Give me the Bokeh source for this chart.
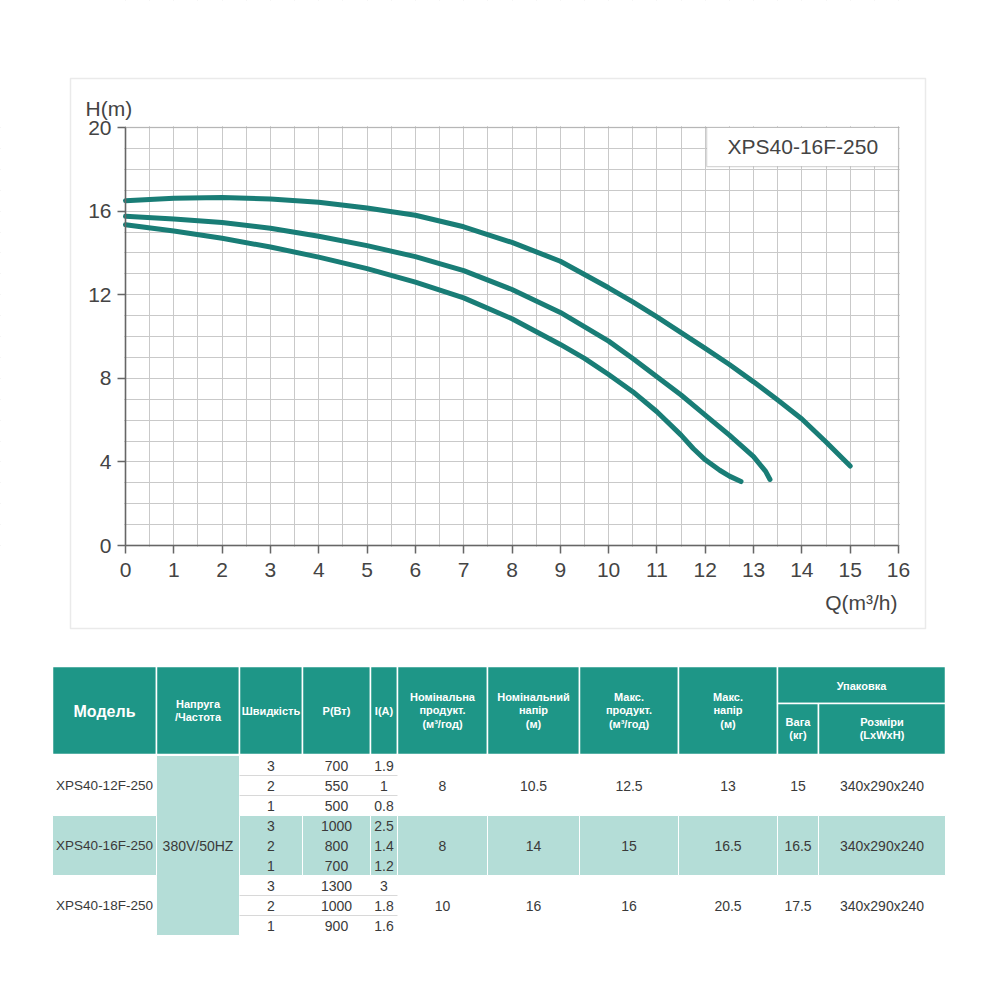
from bokeh.plotting import figure
from bokeh.layouts import column
from bokeh.models import Range1d, SingleIntervalTicker, FixedTicker, Label, BoxAnnotation
from bokeh.embed import file_html
from bokeh.resources import INLINE
from bokeh.core.properties import value

# ---------------- chart data ----------------
q_speed3 = [0, 1, 2, 3, 4, 5, 6, 7, 8, 9, 10, 10.5, 11, 11.5, 12, 12.5, 13, 13.5, 14, 14.5, 15]
h_speed3 = [16.5, 16.62, 16.65, 16.58, 16.42, 16.15, 15.8, 15.25, 14.5, 13.6, 12.33, 11.66, 10.94,
            10.19, 9.43, 8.66, 7.83, 6.96, 6.05, 4.95, 3.8]
q_speed2 = [0, 1, 2, 3, 4, 5, 6, 7, 8, 9, 10, 10.5, 11, 11.5, 12, 12.5, 13, 13.25, 13.34]
h_speed2 = [15.75, 15.62, 15.45, 15.18, 14.8, 14.35, 13.82, 13.15, 12.25, 11.15, 9.78, 8.95, 8.07,
            7.2, 6.24, 5.28, 4.25, 3.55, 3.16]
q_speed1 = [0, 1, 2, 3, 4, 5, 6, 7, 8, 9, 9.5, 10, 10.5, 11, 11.5, 11.75, 12, 12.3, 12.5, 12.74]
h_speed1 = [15.35, 15.05, 14.7, 14.28, 13.8, 13.25, 12.6, 11.85, 10.85, 9.62, 8.95, 8.18, 7.36,
            6.4, 5.28, 4.64, 4.1, 3.6, 3.32, 3.06]
x_ticks = list(range(0, 17))
y_ticks = [0, 4, 8, 12, 16, 20]
model_name = "XPS40-16F-250"
y_title = "H(m)"
x_title = "Q(m³/h)"

# ---------------- table data ----------------
headers = ["Модель", "Напруга\n/Частота", "Швидкість", "P(Вт)", "I(A)",
           "Номінальна\nпродукт.\n(м³/год)", "Номінальний\nнапір\n(м)",
           "Макс.\nпродукт.\n(м³/год)", "Макс.\nнапір\n(м)"]
pack_header = "Упаковка"
pack_sub = ["Вага\n(кг)", "Розміри\n(LxWxH)"]
models = ["XPS40-12F-250", "XPS40-16F-250", "XPS40-18F-250"]
voltage = "380V/50HZ"
speeds = [["3", "2", "1"], ["3", "2", "1"], ["3", "2", "1"]]
power_w = [["700", "550", "500"], ["1000", "800", "700"], ["1300", "1000", "900"]]
current_a = [["1.9", "1", "0.8"], ["2.5", "1.4", "1.2"], ["3", "1.8", "1.6"]]
nominal_flow = ["8", "8", "10"]
nominal_head = ["10.5", "14", "16"]
max_flow = ["12.5", "15", "16"]
max_head = ["13", "16.5", "20.5"]
weight = ["15", "16.5", "17.5"]
dims = ["340x290x240", "340x290x240", "340x290x240"]

# ---------------- styles / layout ----------------
CURVE = "#197d76"
HEAD = "#1e9687"
BAND = "#b4ddd7"
FONT = "Liberation Sans"
TXT = "#444444"

# chart geometry (page pixels): plot area 125..898 x 127..545, figure 1000 x 650
X0_PX, X16_PX, Y0_PX, Y20_PX, CH_H = 125, 898, 545, 127, 650
ux = (X16_PX - X0_PX) / 16.0
uy = (Y0_PX - Y20_PX) / 20.0
xr = Range1d(-X0_PX / ux, (1000 - X0_PX) / ux)
yr = Range1d(-(CH_H - Y0_PX) / uy, Y0_PX / uy)

p = figure(width=1000, height=CH_H, x_range=xr, y_range=yr, title=None,
           output_backend="svg", toolbar_location=None, min_border=0)
p.background_fill_color = "white"
p.border_fill_color = "white"
p.outline_line_color = None

p.xgrid.ticker = SingleIntervalTicker(interval=0.5)
p.ygrid.ticker = SingleIntervalTicker(interval=1)
p.xgrid.bounds = (0, 16)
p.ygrid.bounds = (0, 20)
p.grid.grid_line_color = "#c9c9c9"
p.grid.grid_line_width = 1

# white covers outside the plotting area (hide grid outside)
ex, ey = 1.2 / ux, 1.2 / uy
covers = [(xr.start, -ex, yr.start, yr.end), (16 + ex, xr.end, yr.start, yr.end),
          (xr.start, xr.end, yr.start, -ey), (xr.start, xr.end, 20 + ey, yr.end)]
for l, r, b, tp in covers:
    p.add_layout(BoxAnnotation(left=l, right=r, bottom=b, top=tp, fill_color="white",
                               fill_alpha=1, line_color=None, level="underlay"))
# plot box (top/right edges) and outer frame
p.add_layout(BoxAnnotation(left=0, right=16, bottom=0, top=20, fill_alpha=0,
                           line_color="#8c8c8c", line_width=1.5, level="underlay"))
p.add_layout(BoxAnnotation(left=(70 - X0_PX) / ux, right=(925 - X0_PX) / ux,
                           top=(Y0_PX - 78) / uy, bottom=(Y0_PX - 628) / uy, fill_alpha=0,
                           line_color="#b8b8b8", line_width=1.5, level="underlay"))

p.xaxis.ticker = FixedTicker(ticks=x_ticks)
p.yaxis.ticker = FixedTicker(ticks=y_ticks)
p.xaxis.fixed_location = 0
p.yaxis.fixed_location = 0
p.xaxis.bounds = (0, 16)
p.yaxis.bounds = (0, 20)
for ax in (p.xaxis, p.yaxis):
    ax.axis_line_color = "#666666"
    ax.axis_line_width = 1.5
    ax.major_tick_line_color = "#666666"
    ax.major_tick_line_width = 1.5
    ax.major_tick_out = 8
    ax.major_tick_in = 0
    ax.minor_tick_line_color = None
    ax.major_label_text_font = FONT
    ax.major_label_text_font_size = "21px"
    ax.major_label_text_color = TXT
p.yaxis.major_label_standoff = 6
p.xaxis.major_label_standoff = 9

for q, h in ((q_speed3, h_speed3), (q_speed2, h_speed2), (q_speed1, h_speed1)):
    p.line(q, h, line_color=CURVE, line_width=5, line_cap="round", line_join="round")

# model box
p.add_layout(BoxAnnotation(left=12.03, right=16, top=20, bottom=18.13,
                           fill_color="white", fill_alpha=1, line_color="#777777", line_width=1.2))
p.add_layout(Label(x=14.02, y=19.07, text=model_name, text_align="center", text_baseline="middle",
                   text_font=FONT, text_font_size="21px", text_color=TXT))
p.add_layout(Label(x=(85 - X0_PX) / ux, y=(Y0_PX - 108) / uy, text=y_title, text_align="left",
                   text_baseline="middle", text_font=FONT, text_font_size="21px", text_color=TXT))
p.add_layout(Label(x=(897 - X0_PX) / ux, y=(Y0_PX - 602) / uy, text=x_title, text_align="right",
                   text_baseline="middle", text_font=FONT, text_font_size="21px", text_color=TXT))

# ---------------- table ----------------
t = figure(width=1000, height=1000 - CH_H, x_range=Range1d(0, 1000), y_range=Range1d(1000, CH_H),
           title=None, output_backend="svg", toolbar_location=None, min_border=0,
           x_axis_type=None, y_axis_type=None)
t.grid.visible = False
t.outline_line_color = None
t.background_fill_color = "white"
t.border_fill_color = "white"

col_edges = [52, 156, 239, 302, 370, 397, 487, 579, 678, 777, 818, 945]
head_top, head_split, head_bot = 666, 703, 754
row_top = 755
sub_h = 20
centers = [(col_edges[i] + col_edges[i + 1]) / 2 for i in range(len(col_edges) - 1)]

# header cells
L, R, T, B = [], [], [], []
for i in range(9):
    L.append(col_edges[i]); R.append(col_edges[i + 1]); T.append(head_top); B.append(head_bot)
L += [col_edges[9], col_edges[9], col_edges[10]]
R += [col_edges[11], col_edges[10], col_edges[11]]
T += [head_top, head_split, head_split]
B += [head_split, head_bot, head_bot]
t.quad(left=L, right=R, top=T, bottom=B, fill_color=HEAD, line_color="white", line_width=1.5)

# body: voltage column and middle band
group_tops = [row_top + 3 * sub_h * g for g in range(3)]
t.quad(left=[col_edges[1]], right=[col_edges[2]], top=[row_top], bottom=[row_top + 9 * sub_h],
       fill_color=BAND, line_color="white", line_width=1)
band_cols = [0] + list(range(2, 11))
t.quad(left=[col_edges[i] for i in band_cols], right=[col_edges[i + 1] for i in band_cols],
       top=[group_tops[1]] * len(band_cols), bottom=[group_tops[1] + 3 * sub_h] * len(band_cols),
       fill_color=BAND, line_color="white", line_width=1)
# sub-row separators in white groups
xs, ys = [], []
for g in (0, 2):
    for k in (1, 2):
        y = group_tops[g] + k * sub_h
        xs.append([col_edges[2], col_edges[5]]); ys.append([y, y])
t.multi_line(xs, ys, line_color="#d8d8d8", line_width=1)

# header texts
t.text(x=centers[1:9], y=[710] * 8, text=headers[1:], text_align="center", text_baseline="middle",
       text_font=value(FONT), text_font_style="bold", text_font_size="11px", text_color="white",
       text_line_height=1.1)
t.text(x=[centers[0]], y=[711], text=[headers[0]], text_align="center", text_baseline="middle",
       text_font=value(FONT), text_font_style="bold", text_font_size="16px", text_color="white")
t.text(x=[(col_edges[9] + col_edges[11]) / 2, centers[9], centers[10]], y=[685, 728, 728],
       text=[pack_header] + pack_sub, text_align="center", text_baseline="middle",
       text_font=value(FONT), text_font_style="bold", text_font_size="11px", text_color="white",
       text_line_height=1.1)

# body texts
tx, ty, tt = [], [], []
mx, my = [], []
for g in range(3):
    gc = group_tops[g] + 1.5 * sub_h
    mx.append(centers[0]); my.append(gc)
    for k in range(3):
        yk = group_tops[g] + (k + 0.5) * sub_h
        tx += [centers[2], centers[3], centers[4]]
        ty += [yk, yk, yk]
        tt += [speeds[g][k], power_w[g][k], current_a[g][k]]
    for c, vals in ((5, nominal_flow), (6, nominal_head), (7, max_flow), (8, max_head),
                    (9, weight), (10, dims)):
        tx.append(centers[c]); ty.append(gc); tt.append(vals[g])
tx.append(centers[1]); ty.append(group_tops[1] + 1.5 * sub_h); tt.append(voltage)
t.text(x=tx, y=ty, text=tt, text_align="center", text_baseline="middle",
       text_font=value(FONT), text_font_size="14px", text_color="#3a3a3a")
t.text(x=mx, y=my, text=models, text_align="center", text_baseline="middle",
       text_font=value(FONT), text_font_size="13.5px", text_color="#3a3a3a")

layout = column(p, t, spacing=0)
open("out.html", "w").write(file_html(layout, INLINE))
